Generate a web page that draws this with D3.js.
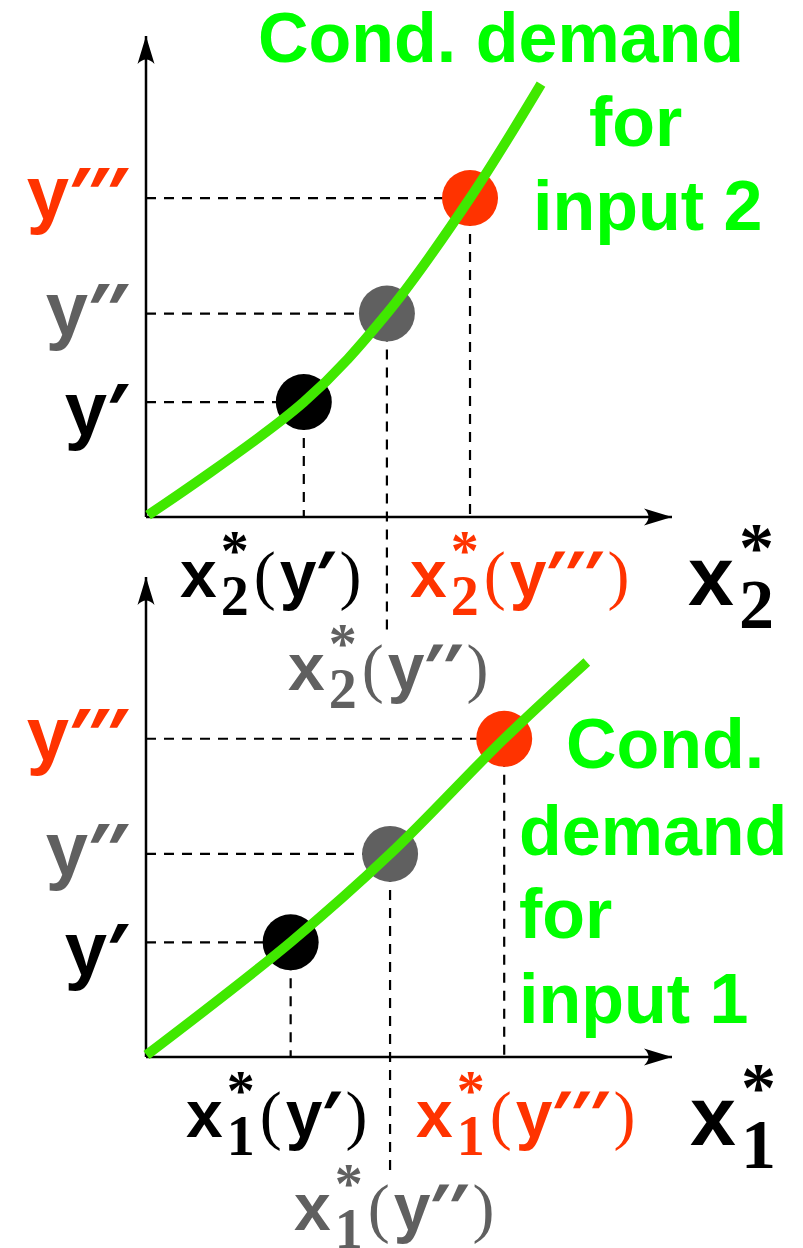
<!DOCTYPE html>
<html>
<head>
<meta charset="utf-8">
<script src="https://cdn.jsdelivr.net/npm/d3@7"></script>
<style>
body { margin: 0; background: #fff; }
</style>
</head>
<body>
<div id="chart"></div>
<script>
// output levels y', y'', y''' (number of primes) and the input used at each of them
var primeCount = [1, 2, 3];
var levelColors = ["#000000", "#606060", "#ff3300"];
var outputLevels = [23.9, 42.3, 66.3];
var x2Star = [30.0, 45.8, 61.6];
var x1Star = [27.5, 46.4, 68.1];

// conditional demand curves, [x, y]
var curve2 = [[0.4, 0.4], [30.0, 23.9], [45.8, 42.3], [61.6, 66.3], [75.1, 90.0]];
var curve1 = [[0.1, 0.4], [27.5, 23.9], [46.4, 42.3], [68.1, 66.3], [83.8, 82.3]];

var curveText2 = ["Cond. demand", "for", "input 2"];
var curveText1 = ["Cond.", "demand", "for", "input 1"];

var SANS = "'Liberation Sans', Arial, Helvetica, sans-serif";
var SERIF = "'Liberation Serif', 'Times New Roman', serif";
var GREEN_TXT = "#00ff00";
var GREEN_LINE = "#40e800";

var width = 803, height = 1248;

var panels = [
    {sub: "2", xs: x2Star, curve: curve2, text: curveText2,
     top: 36, bottom: 517, grayEnd: 634,
     labelX: [180, 288, 410], labelBase: [597, 690, 597],
     axisLabel: [688, 605],
     textPos: [[258, 62], [589, 146], [533, 230]]},
    {sub: "1", xs: x1Star, curve: curve1, text: curveText1,
     top: 577, bottom: 1057, grayEnd: 1178,
     labelX: [186, 294, 416], labelBase: [1137, 1230, 1137],
     axisLabel: [690, 1145],
     textPos: [[566, 768], [519, 855], [519, 938], [519, 1023]]}
];

var levelLabelShift = [33, 21, 21];
var PITCH = 19;

var svg = d3.select('#chart').append('svg')
    .attr('width', width)
    .attr('height', height);

svg.append('defs').append('marker')
    .attr('id', 'arrow')
    .attr('markerUnits', 'userSpaceOnUse')
    .attr('viewBox', '-30 -10 32 20')
    .attr('refX', 0).attr('refY', 0)
    .attr('markerWidth', 32).attr('markerHeight', 20)
    .attr('orient', 'auto')
    .append('path')
    .attr('d', 'M0,0 L-28,-8.5 Q-19,0 -28,8.5 Z')
    .attr('fill', '#000');

function txt(g, s, fam, size, weight, px, py, color, anchor) {
    var t = g.append('text')
        .attr('x', px).attr('y', py)
        .attr('font-family', fam)
        .attr('font-size', size)
        .attr('font-weight', weight)
        .attr('fill', color)
        .attr('text-anchor', anchor || 'start')
        .text(s);
    return t.node().getComputedTextLength();
}

// slanted prime marks, drawn one by one so their spacing can be set;
// x is roughly where the ink of the first mark starts
function primeMarks(g, x, base, n, size, color) {
    for (var k = 0; k < n; k++) {
        g.append('text')
            .attr('transform', 'translate(' + (x - 19 + k * PITCH) + ',' + base + ') skewX(-18)')
            .attr('font-family', SANS)
            .attr('font-size', size)
            .attr('font-weight', 'bold')
            .attr('font-style', 'italic')
            .attr('fill', color)
            .text('′');
    }
    return n * PITCH;
}

function starLabel(g, x0, base, sub, n, color, s) {
    var x = x0;
    x += txt(g, 'x', SANS, 66 * s, 'bold', x, base, color) + 4 * s;
    var ws = txt(g, sub, SERIF, 56 * s, 'bold', x, base + 18 * s, color);
    txt(g, '*', SERIF, 56 * s, 'bold', x + ws / 2, base - 27 * s, color, 'middle');
    x += ws + 5 * s;
    if (n) {
        x += txt(g, '(', SERIF, 66, 'normal', x, base, color) + 4;
        x += txt(g, 'y', SANS, 66, 'bold', x, base, color) - 8;
        primeMarks(g, x + 13, base, n, 66, color);
        x += n * PITCH + 12;
        txt(g, ')', SERIF, 66, 'normal', x, base, color);
    }
}

panels.forEach(function (p) {
    var x = d3.scaleLinear().domain([0, 100]).range([146, 672]);
    var y = d3.scaleLinear().domain([0, 100]).range([p.bottom, p.top]);
    var g = svg.append('g');

    // guide lines
    g.selectAll('.hguide')
        .data(outputLevels)
        .enter().append('line')
        .attr('x1', x(0)).attr('x2', function (d, i) { return x(p.xs[i]); })
        .attr('y1', function (d) { return y(d); }).attr('y2', function (d) { return y(d); })
        .attr('stroke', '#000').attr('stroke-width', 2.2)
        .attr('stroke-dasharray', '10,8');

    g.selectAll('.vguide')
        .data(p.xs)
        .enter().append('line')
        .attr('x1', function (d) { return x(d); }).attr('x2', function (d) { return x(d); })
        .attr('y1', function (d, i) { return y(outputLevels[i]); })
        .attr('y2', function (d, i) { return i === 1 ? p.grayEnd : y(0); })
        .attr('stroke', '#000').attr('stroke-width', 2.2)
        .attr('stroke-dasharray', '10,8');

    // axes
    g.append('line')
        .attr('x1', x(0)).attr('y1', y(0)).attr('x2', x(0)).attr('y2', y(100))
        .attr('stroke', '#000').attr('stroke-width', 2.5)
        .attr('marker-end', 'url(#arrow)');
    g.append('line')
        .attr('x1', x(0)).attr('y1', y(0)).attr('x2', x(100)).attr('y2', y(0))
        .attr('stroke', '#000').attr('stroke-width', 2.5)
        .attr('marker-end', 'url(#arrow)');

    // points
    g.selectAll('.pt')
        .data(p.xs)
        .enter().append('circle')
        .attr('cx', function (d) { return x(d); })
        .attr('cy', function (d, i) { return y(outputLevels[i]); })
        .attr('r', 28)
        .attr('fill', function (d, i) { return levelColors[i]; });

    // demand curve
    var line = d3.line()
        .x(function (d) { return x(d[0]); })
        .y(function (d) { return y(d[1]); })
        .curve(d3.curveCatmullRom.alpha(0.5));
    g.append('path')
        .attr('d', line(p.curve))
        .attr('fill', 'none')
        .attr('stroke', GREEN_LINE)
        .attr('stroke-width', 10);

    // level labels on the y axis
    outputLevels.forEach(function (d, i) {
        var n = primeCount[i];
        var first = 128 - (n - 1) * PITCH - 17;
        var base = y(d) + levelLabelShift[i];
        txt(g, 'y', SANS, 76, 'bold', first - 4, base, levelColors[i], 'end');
        primeMarks(g, first, base, n, 74, levelColors[i]);
    });

    // input labels under the x axis
    p.xs.forEach(function (d, i) {
        starLabel(g, p.labelX[i], p.labelBase[i], p.sub, primeCount[i], levelColors[i], 1);
    });
    starLabel(g, p.axisLabel[0], p.axisLabel[1], p.sub, 0, '#000', 1.25);

    // curve caption
    p.text.forEach(function (s, i) {
        txt(g, s, SANS, 70, 'bold', p.textPos[i][0], p.textPos[i][1], GREEN_TXT);
    });
});
</script>
</body>
</html>
